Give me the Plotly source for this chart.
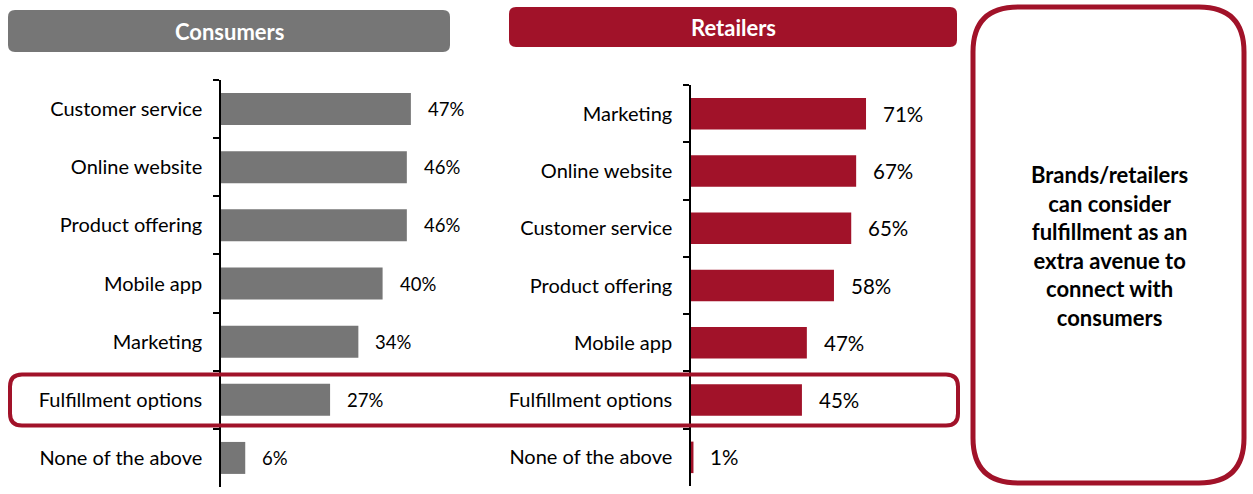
import plotly.graph_objects as go

W, H = 1253, 494

# ---- data ----
consumer_categories = ["Customer service", "Online website", "Product offering", "Mobile app",
                       "Marketing", "Fulfillment options", "None of the above"]
consumer_values = [47, 46, 46, 40, 34, 27, 6]

retailer_categories = ["Marketing", "Online website", "Customer service", "Product offering",
                       "Mobile app", "Fulfillment options", "None of the above"]
retailer_values = [71, 67, 65, 58, 47, 45, 1]

panel_titles = ["Consumers", "Retailers"]
callout_lines = ["Brands/retailers", "can consider", "fulfillment as an",
                 "extra avenue to", "connect with", "consumers"]

GRAY = "#767676"
RED = "#A11229"
FONT = "Lato"


def px(x):
    return x / W


def py(y):
    return 1 - y / H


def rounded_rect(x0, y0, x1, y1, r):
    # pixel coords (top-left origin) -> paper path
    p = []
    p.append(f"M {px(x0 + r)},{py(y0)}")
    p.append(f"L {px(x1 - r)},{py(y0)}")
    p.append(f"Q {px(x1)},{py(y0)} {px(x1)},{py(y0 + r)}")
    p.append(f"L {px(x1)},{py(y1 - r)}")
    p.append(f"Q {px(x1)},{py(y1)} {px(x1 - r)},{py(y1)}")
    p.append(f"L {px(x0 + r)},{py(y1)}")
    p.append(f"Q {px(x0)},{py(y1)} {px(x0)},{py(y1 - r)}")
    p.append(f"L {px(x0)},{py(y0 + r)}")
    p.append(f"Q {px(x0)},{py(y0)} {px(x0 + r)},{py(y0)}")
    p.append("Z")
    return " ".join(p)


fig = go.Figure()

fig.add_trace(go.Bar(x=consumer_values, y=consumer_categories, orientation="h",
                     marker=dict(color=GRAY, line=dict(width=0)),
                     xaxis="x", yaxis="y", hoverinfo="skip", showlegend=False))
fig.add_trace(go.Bar(x=retailer_values, y=retailer_categories, orientation="h",
                     marker=dict(color=RED, line=dict(width=0)),
                     xaxis="x2", yaxis="y2", hoverinfo="skip", showlegend=False))

annotations = []
for v, c in zip(consumer_values, consumer_categories):
    annotations.append(dict(x=v, y=c, xref="x", yref="y", text=f"{v}%", showarrow=False,
                            xanchor="left", yanchor="middle", xshift=15,
                            font=dict(family=FONT, size=18.5, color="black")))
for v, c in zip(retailer_values, retailer_categories):
    annotations.append(dict(x=v, y=c, xref="x2", yref="y2", text=f"{v}%", showarrow=False,
                            xanchor="left", yanchor="middle", xshift=15,
                            font=dict(family=FONT, size=20.5, color="black")))

# panel titles
annotations.append(dict(x=px(229), y=py(32), xref="paper", yref="paper", text=f"<b>{panel_titles[0]}</b>",
                        showarrow=False, xanchor="center", yanchor="middle",
                        font=dict(family=FONT, size=22, color="white")))
annotations.append(dict(x=px(733), y=py(28), xref="paper", yref="paper", text=f"<b>{panel_titles[1]}</b>",
                        showarrow=False, xanchor="center", yanchor="middle",
                        font=dict(family=FONT, size=22, color="white")))

# callout text
annotations.append(dict(x=px(1109), y=py(246), xref="paper", yref="paper",
                        text="<br>".join(f"<b>{t}</b>" for t in callout_lines),
                        showarrow=False, align="center", xanchor="center", yanchor="middle",
                        font=dict(family=FONT, size=22, color="black")))

shapes = [
    dict(type="path", xref="paper", yref="paper", path=rounded_rect(8, 10, 450, 52, 7),
         fillcolor=GRAY, line=dict(width=0), layer="below"),
    dict(type="path", xref="paper", yref="paper", path=rounded_rect(509, 7, 957, 47, 7),
         fillcolor=RED, line=dict(width=0), layer="below"),
    dict(type="path", xref="paper", yref="paper", path=rounded_rect(10, 374.5, 958, 425.5, 12),
         fillcolor="rgba(0,0,0,0)", line=dict(color=RED, width=4), layer="above"),
    dict(type="path", xref="paper", yref="paper", path=rounded_rect(973, 7, 1244, 483, 45),
         fillcolor="rgba(0,0,0,0)", line=dict(color=RED, width=5), layer="above"),
]

L_AX, L_END = 221, 480
R_AX, R_END = 691, 960
L_SCALE = 4.04
R_SCALE = 2.465

yaxis_common = dict(type="category", autorange="reversed", showline=True, linecolor="black",
                    linewidth=1.5, ticks="outside", tickson="boundaries", ticklen=6,
                    tickcolor="black", tickwidth=1.5, showgrid=False, zeroline=False,
                    ticklabelstandoff=13, tickfont=dict(family=FONT, size=20, color="black"))

fig.update_layout(
    width=W, height=H, margin=dict(l=0, r=0, t=0, b=0),
    paper_bgcolor="white", plot_bgcolor="rgba(0,0,0,0)",
    bargap=0.45,
    xaxis=dict(domain=[px(L_AX), px(L_END)], range=[0, (L_END - L_AX) / L_SCALE], visible=False,
               anchor="y"),
    yaxis=dict(domain=[py(487), py(80)], anchor="x", **yaxis_common),
    xaxis2=dict(domain=[px(R_AX), px(R_END)], range=[0, (R_END - R_AX) / R_SCALE], visible=False,
                anchor="y2"),
    yaxis2=dict(domain=[py(486), py(85)], anchor="x2", **yaxis_common),
    annotations=annotations,
    shapes=shapes,
)

fig.write_html("out.html")
